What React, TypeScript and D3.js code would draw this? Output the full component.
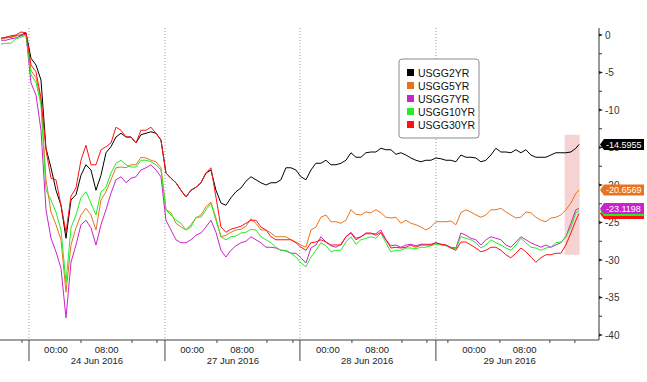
import React from "react";
import * as d3 from "d3";

// ---------- DATA ----------
const seriesNames = ["USGG2YR", "USGG5YR", "USGG7YR", "USGG10YR", "USGG30YR"];

// sample times (hours on the compressed trading axis), every 0.8h, plus last print
const sampleHours: number[] = d3.range(116).map((i) => i * 0.8).concat([92.5]);

const usgg2yr = [
  -0.5, -0.3, -0.3, -0.1, 0, 0.3, -3.1, -4.0, -6.0, -15.1,
  -17.7, -20.7, -22.7, -27.1, -22.0, -21.3, -18.7, -17.3, -18.0, -20.7,
  -18.7, -15.7, -14.9, -13.6, -13.1, -13.6, -13.6, -14.4, -13.3, -13.1,
  -12.9, -13.1, -14.0, -18.4, -19.1, -19.7, -20.7, -21.6, -20.7, -20.3,
  -19.7, -18.4, -18.0, -20.7, -22.4, -22.7, -21.7, -20.9, -20.4, -19.5,
  -18.9, -19.3, -19.7, -20.0, -19.7, -19.7, -19.3, -17.7, -17.7, -18.0,
  -18.9, -19.3, -18.0, -17.1, -17.1, -16.7, -17.3, -17.3, -17.1, -16.7,
  -15.7, -16.3, -16.3, -15.7, -15.6, -15.6, -15.1, -15.3, -15.3, -15.9,
  -15.7, -16.0, -16.4, -16.7, -16.9, -16.7, -16.7, -16.4, -16.5, -16.7,
  -16.7, -16.9, -16.0, -16.3, -16.3, -16.4, -16.9, -16.7, -16.0, -15.1,
  -15.6, -15.6, -15.7, -15.3, -15.7, -15.3, -16.0, -16.3, -16.3, -16.3,
  -16.0, -15.7, -15.7, -15.7, -15.6, -15.1, -14.5955,
];

const usgg5yr = [
  -0.5, -0.4, -0.3, -0.1, 0, 0.1, -4.7, -5.7, -8.7, -19.3,
  -23.6, -25.3, -27.3, -34.3, -28.0, -25.7, -24.0, -23.1, -24.0, -26.0,
  -22.0, -20.9, -19.3, -17.7, -17.6, -17.7, -17.3, -17.3, -16.3, -16.4,
  -16.7, -16.9, -17.7, -23.3, -23.7, -25.1, -25.6, -26.0, -25.3, -24.4,
  -24.0, -22.9, -22.3, -24.4, -26.9, -26.7, -26.3, -26.0, -25.9, -25.5,
  -24.5, -25.1, -26.0, -26.0, -26.4, -26.9, -26.9, -26.9, -27.3, -27.6,
  -28.0, -28.3, -26.0, -25.6, -24.3, -24.0, -24.9, -24.9, -25.1, -24.7,
  -23.3, -23.9, -24.0, -23.6, -23.7, -23.3, -23.7, -24.3, -24.4, -24.3,
  -25.1, -24.7, -25.1, -25.3, -25.6, -26.0, -25.6, -24.9, -24.9, -24.9,
  -24.8, -25.3, -23.7, -23.3, -23.6, -24.0, -24.3, -24.0, -23.3, -23.3,
  -23.1, -23.6, -24.0, -24.4, -24.3, -23.6, -23.7, -24.3, -24.7, -24.9,
  -24.4, -24.3, -24.0, -23.3, -22.4, -21.1, -20.6569,
];

const usgg7yr = [
  -0.7, -0.7, -0.5, -0.4, -0.1, 0.1, -6.4, -8.0, -12.7, -23.3,
  -27.1, -28.9, -31.1, -37.7, -30.3, -28.0, -25.3, -24.7, -25.7, -28.0,
  -25.3, -23.3, -21.1, -19.3, -18.9, -19.7, -19.1, -18.9, -18.0, -17.7,
  -17.3, -18.0, -18.9, -24.7, -26.0, -27.3, -27.7, -27.7, -27.3, -26.7,
  -26.4, -25.6, -24.7, -26.3, -28.7, -29.6, -28.7, -28.1, -27.7, -27.5,
  -26.9, -27.3, -27.7, -28.3, -28.3, -28.4, -28.7, -28.8, -29.1, -29.1,
  -29.7, -30.4, -28.4, -28.0, -26.9, -27.6, -28.1, -28.3, -27.9, -26.9,
  -26.3, -27.1, -26.9, -26.5, -26.5, -26.5, -26.0, -27.3, -28.1, -28.0,
  -28.3, -28.0, -27.9, -28.1, -27.9, -27.9, -27.9, -27.7, -27.9, -28.0,
  -28.3, -28.4, -26.4, -26.7, -27.1, -27.3, -28.0, -27.3, -26.9, -27.1,
  -27.3, -28.0, -28.3, -27.6, -26.9, -27.3, -27.7, -28.0, -28.3, -28.0,
  -28.3, -28.0, -27.7, -26.9, -25.1, -23.3, -23.1198,
];

const usgg10yr = [
  -1.2, -1.1, -1.1, -0.5, -0.3, 0, -5.3, -6.3, -9.3, -20.7,
  -22.0, -23.6, -26.0, -33.0, -25.7, -24.0, -21.7, -20.9, -22.4, -24.0,
  -20.9, -20.3, -18.4, -17.1, -16.7, -17.3, -17.6, -17.6, -16.7, -16.7,
  -16.9, -17.3, -18.0, -23.3, -24.0, -24.7, -25.1, -26.0, -25.6, -24.3,
  -24.3, -23.3, -22.4, -24.7, -26.9, -27.3, -26.9, -26.8, -26.4, -26.3,
  -25.9, -26.0, -26.9, -27.3, -27.7, -28.3, -28.7, -28.7, -29.1, -29.6,
  -30.4, -30.9, -29.6, -28.7, -27.7, -28.1, -28.9, -28.7, -28.7, -27.6,
  -26.9, -27.9, -27.3, -27.1, -26.9, -27.1, -26.4, -27.7, -28.9, -28.7,
  -28.7, -28.4, -28.4, -28.5, -28.3, -28.3, -28.1, -27.9, -28.0, -28.1,
  -28.4, -28.5, -26.9, -27.1, -27.3, -27.7, -28.4, -28.0, -27.3, -27.7,
  -28.0, -28.4, -28.7, -28.0, -27.1, -27.7, -28.3, -28.4, -28.7, -28.4,
  -28.3, -27.7, -27.6, -26.9, -25.6, -23.7, -23.4,
];

const usgg30yr = [
  -0.4, -0.3, -0.1, 0, 0.4, 0.3, -4.0, -4.9, -8.4, -15.3,
  -19.1, -19.3, -22.7, -26.3, -21.5, -20.4, -16.7, -14.7, -17.3, -17.3,
  -15.3, -14.9, -14.4, -12.3, -12.7, -13.6, -13.6, -14.4, -12.7, -12.7,
  -12.3, -13.1, -14.0, -18.4, -19.1, -19.7, -20.7, -21.6, -20.7, -20.3,
  -19.7, -18.4, -17.7, -21.6, -25.6, -26.3, -25.9, -25.7, -25.5, -25.1,
  -24.7, -24.7, -25.6, -26.0, -26.9, -27.3, -27.3, -27.3, -27.3, -27.7,
  -28.3, -28.7, -27.7, -27.6, -27.3, -27.6, -28.0, -28.0, -28.0, -26.9,
  -26.4, -27.3, -26.9, -26.4, -26.4, -26.7, -26.3, -27.3, -28.4, -28.3,
  -28.4, -28.3, -28.0, -28.3, -28.0, -28.0, -28.0, -27.7, -27.9, -28.0,
  -28.4, -28.7, -27.6, -27.6, -28.0, -28.4, -28.9, -28.7, -28.3, -28.3,
  -28.7, -29.3, -29.7, -29.1, -28.4, -28.9, -29.6, -30.3, -29.7, -29.3,
  -29.3, -29.1, -29.1, -28.0, -26.4, -24.7, -23.8,
];

const seriesValues = [usgg2yr, usgg5yr, usgg7yr, usgg10yr, usgg30yr];
// labels shown on the right axis (10YR and 30YR labels are hidden behind 7YR)
const lastLabels = ["-14.5955", "-20.6569", "-23.1198", "", ""];

// x axis (hours on compressed axis)
const daySeparatorHours = [4.48, 26.24, 47.84, 69.6];
const minorTickHours = [3.36, 12.8, 20.96, 24.96, 34.56, 42.56, 46.72, 56.16, 64.16, 68.16, 71.52, 79.84, 87.84, 91.84];
const midnightLabelHours = [8.8, 30.6, 52.3, 75.7];
const eightLabelHours = [16.9, 38.6, 60.2, 83.8];
const dateLabelHours = [15.36, 37.1, 58.6, 81.4];
const dateLabels = ["24 Jun 2016", "27 Jun 2016", "28 Jun 2016", "29 Jun 2016"];

const yMajorTicks = [0, -5, -10, -15, -20, -25, -30, -35, -40];
const yMinorTicks = [-2.5, -7.5, -12.5, -17.5, -22.5, -27.5, -32.5, -37.5];

// highlighted window at the end
const highlightHours = [90.2, 92.6];
const highlightValues = [-13.3, -29.3];

// ---------- STYLE ----------
const colors = ["#000000", "#e8731c", "#cc22cc", "#22ee22", "#ff1111"];
const FONT = "'Liberation Sans', Arial, sans-serif";

export default function App() {
  const W = 647;
  const H = 382;
  const x = d3.scaleLinear().domain([0, 92.5]).range([1, 579]);
  const y = d3.scaleLinear().domain([0, -40]).range([35, 335]);
  const axisX = 599;
  const axisY = 340;
  const top = 28;

  const line = d3
    .line<number>()
    .x((_, i) => x(sampleHours[i]))
    .y((d) => y(d));

  const labelPath = (cy: number) => {
    const h = 5.5;
    return `M${axisX + 1},${cy} L${axisX + 5},${cy - h} L${axisX + 45},${cy - h} L${axisX + 45},${cy + h} L${axisX + 5},${cy + h} Z`;
  };

  const lastVals = seriesValues.map((s) => s[s.length - 1]);
  const labelOrder = [4, 3, 2, 1, 0];

  return (
    <svg
      width={W}
      height={H}
      style={{ position: "absolute", left: 0, top: 0, background: "#fff" }}
      fontFamily={FONT}
    >
      <rect x={0} y={0} width={W} height={H} fill="#fff" />
      {/* highlight */}
      <rect
        x={x(highlightHours[0])}
        y={y(highlightValues[0])}
        width={x(highlightHours[1]) - x(highlightHours[0])}
        height={y(highlightValues[1]) - y(highlightValues[0])}
        fill="#f6d2d2"
      />
      {/* day separators dotted */}
      {daySeparatorHours.map((h, i) => (
        <line
          key={"g" + i}
          x1={x(h)}
          x2={x(h)}
          y1={top}
          y2={axisY}
          stroke="#9a9a9a"
          strokeWidth={1}
          strokeDasharray="1,2"
        />
      ))}
      {/* lines */}
      {seriesValues.map((s, i) => (
        <path key={"l" + i} d={line(s) || ""} fill="none" stroke={colors[i]} strokeWidth={1} />
      ))}
      {/* x axis */}
      <line x1={0} x2={axisX} y1={axisY} y2={axisY} stroke="#808080" strokeWidth={1.6} />
      {daySeparatorHours.map((h, i) => (
        <line key={"s" + i} x1={x(h)} x2={x(h)} y1={axisY} y2={361} stroke="#444" strokeWidth={1} />
      ))}
      {minorTickHours.map((h, i) => (
        <line key={"m" + i} x1={x(h)} x2={x(h)} y1={axisY} y2={axisY + 3} stroke="#444" strokeWidth={1} />
      ))}
      {midnightLabelHours.map((h, i) => (
        <text key={"t0" + i} x={x(h)} y={353} fontSize={9.5} textAnchor="middle" fill="#222">
          00:00
        </text>
      ))}
      {eightLabelHours.map((h, i) => (
        <text key={"t8" + i} x={x(h)} y={353} fontSize={9.5} textAnchor="middle" fill="#222">
          08:00
        </text>
      ))}
      {dateLabelHours.map((h, i) => (
        <text key={"d" + i} x={x(h)} y={364} fontSize={9.5} textAnchor="middle" fill="#222">
          {dateLabels[i]}
        </text>
      ))}
      {/* y axis */}
      <line x1={axisX} x2={axisX} y1={top} y2={axisY} stroke="#333" strokeWidth={1} />
      {yMinorTicks.map((v, i) => (
        <line key={"ym" + i} x1={axisX} x2={axisX + 3} y1={y(v)} y2={y(v)} stroke="#333" strokeWidth={1} />
      ))}
      {yMajorTicks.map((v, i) => (
        <g key={"yM" + i}>
          <path
            d={`M${axisX},${y(v) - 1.5} L${axisX + 4},${y(v)} L${axisX},${y(v) + 1.5} Z`}
            fill="#222"
          />
          <text x={axisX + 6} y={y(v) + 3.5} fontSize={10} fill="#333">
            {v === 0 ? "0" : `-${Math.abs(v)}`}
          </text>
        </g>
      ))}
      {/* last value labels */}
      {labelOrder.map((i) => (
        <g key={"lab" + i}>
          <path d={labelPath(y(lastVals[i]))} fill={colors[i]} />
          {lastLabels[i] ? (
            <text x={axisX + 7} y={y(lastVals[i]) + 3.3} fontSize={9} fill="#fff">
              {lastLabels[i]}
            </text>
          ) : null}
        </g>
      ))}
      {/* legend */}
      <g transform="translate(399,59)">
        <rect x={0} y={0} width={80} height={79} rx={3} fill="#fff" stroke="#8a8a8a" strokeWidth={1} />
        {seriesNames.map((n, i) => (
          <g key={"lg" + i} transform={`translate(0,${13.5 + i * 13})`}>
            <rect x={8} y={-3.5} width={7} height={7} fill={colors[i]} />
            <text x={19} y={4} fontSize={10.5} fill="#111">
              {n}
            </text>
          </g>
        ))}
      </g>
    </svg>
  );
}
